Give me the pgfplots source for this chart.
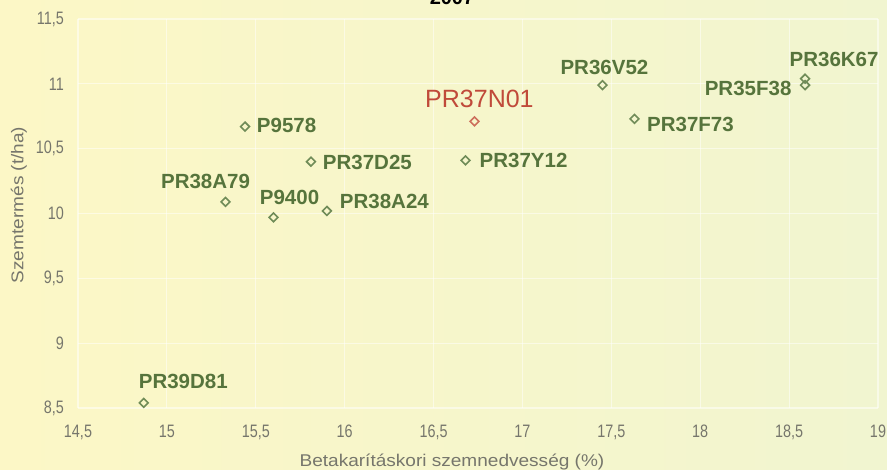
\documentclass[border=0pt]{standalone}
\usepackage{fontspec}
\setmainfont{Liberation Sans}
\newfontfamily\tickfont[FakeStretch=0.8]{Liberation Sans}
\newfontfamily\labfont[FakeStretch=1.12]{Liberation Sans}
\usepackage{pgfplots}
\usepackage{pgfplotstable}
\pgfplotsset{compat=1.18}
\definecolor{bgl}{RGB}{252,247,198}
\definecolor{bgr}{RGB}{241,245,208}
\definecolor{txtgreen}{RGB}{86,116,60}
\definecolor{mkgreen}{RGB}{112,140,88}
\definecolor{txtred}{RGB}{192,74,58}
\definecolor{mkred}{RGB}{205,112,92}
\definecolor{tickgray}{RGB}{118,118,108}

\pgfplotstableread{
x y label dx dy
14.87 8.54 PR39D81 39.5 21
15.33 10.09 PR38A79 -20 20
15.60 9.97 P9400 16 20
15.90 10.02 PR38A24 57.5 9
15.81 10.40 PR37D25 56.5 -1
15.44 10.67 P9578 41.5 1
16.68 10.41 PR37Y12 58 0
17.45 10.99 PR36V52 2 18
17.63 10.73 PR37F73 56 -5.5
18.59 10.99 PR35F38 -57 -3
18.59 11.04 PR36K67 29 19
}\greenpts

\pgfplotstableread{
x y label dx dy
16.73 10.71 PR37N01 5 23
}\redpts

\begin{document}
\begin{tikzpicture}
\shade[left color=bgl, right color=bgr] (0pt,0pt) rectangle (887pt,470pt);
\useasboundingbox (0pt,0pt) rectangle (887pt,470pt);
\node[font=\bfseries\fontsize{20}{22}\selectfont, anchor=base] at (452pt,465pt) {2007};
\begin{axis}[
  at={(78pt,62pt)}, anchor=south west,
  scale only axis, width=800pt, height=389pt,
  xmin=14.5, xmax=19, ymin=8.5, ymax=11.5,
  xtick={14.5,15,15.5,16,16.5,17,17.5,18,18.5,19},
  ytick={8.5,9,9.5,10,10.5,11,11.5},
  axis line style={draw=none},
  major tick length=0pt,
  grid=major,
  grid style={white, opacity=0.5, line width=1.2pt},
  /pgf/number format/.cd, use comma, fixed, assume math mode=true, /pgfplots/.cd,
  tick label style={font=\tickfont\fontsize{18}{20}\selectfont, color=tickgray},
  yticklabel style={inner sep=0pt, xshift=-14pt},
  xticklabel style={inner sep=0pt, yshift=-17pt},
  xlabel={Betakarításkori szemnedvesség (\%)},
  ylabel={Szemtermés (t/ha)},
  label style={font=\labfont\fontsize{17}{19}\selectfont, color=tickgray},
  xlabel style={at={(axis description cs:0.4675,-0.139)}, anchor=center},
  ylabel style={at={(axis description cs:-0.074,0.522)}, anchor=center},
  clip=false,
  nodes near coords align={center},
]
\addplot[only marks, mark=square, mark size=3.1pt, mark options={draw=mkgreen, line width=1.6pt, fill=none, rotate=45},
  point meta=explicit symbolic,
  visualization depends on={\thisrow{dx} \as \dx},
  visualization depends on={\thisrow{dy} \as \dy},
  nodes near coords,
  every node near coord/.append style={anchor=center, inner sep=0pt, xshift=\dx pt, yshift=\dy pt,
     font=\bfseries\fontsize{20.5}{22}\selectfont, text=txtgreen}]
  table[x=x, y=y, meta=label] {\greenpts};
\addplot[only marks, mark=square, mark size=3.1pt, mark options={draw=mkred, line width=1.6pt, fill=none, rotate=45},
  point meta=explicit symbolic,
  visualization depends on={\thisrow{dx} \as \dx},
  visualization depends on={\thisrow{dy} \as \dy},
  nodes near coords,
  every node near coord/.append style={anchor=center, inner sep=0pt, xshift=\dx pt, yshift=\dy pt,
     font=\fontsize{25}{27}\selectfont, text=txtred}]
  table[x=x, y=y, meta=label] {\redpts};
\end{axis}
\end{tikzpicture}
\end{document}
